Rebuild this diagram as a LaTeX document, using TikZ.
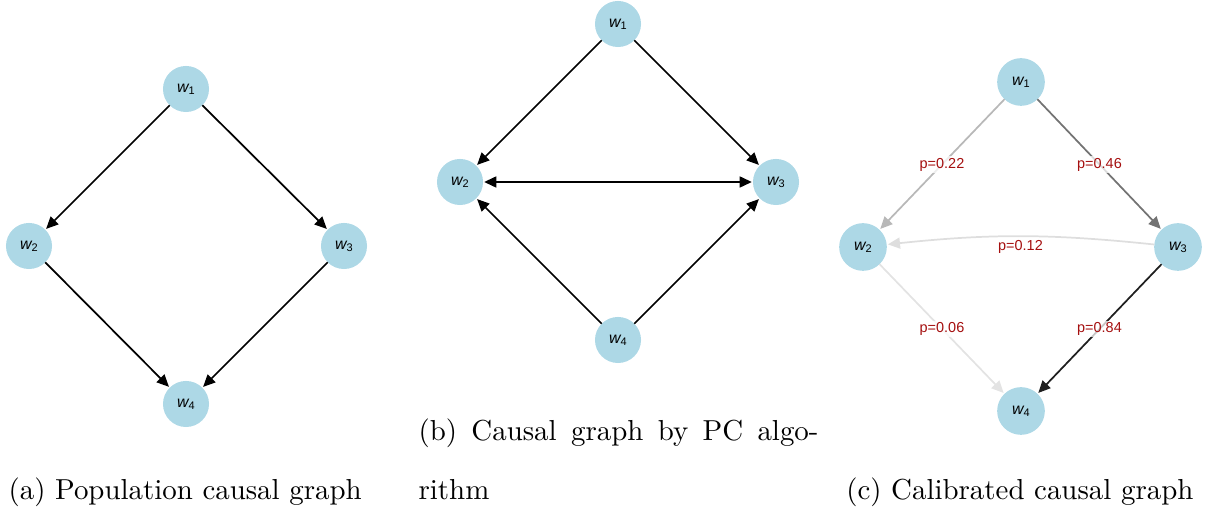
\documentclass[tikz,border=0pt]{standalone}
\usepackage{fontspec}
\usetikzlibrary{arrows.meta,calc}
\newfontfamily\plotfont{Liberation Sans}
\definecolor{nodeblue}{RGB}{173,216,230}
\definecolor{plabel}{RGB}{165,15,15}
\newcommand{\wvar}[1]{{\itshape w}\raisebox{-0.7pt}{\fontsize{3.8}{4}\selectfont #1}}

\begin{document}
\begin{tikzpicture}[x=0.01216cm,y=-0.01216cm,
  var/.style={circle,fill=nodeblue,minimum size=0.56cm,inner sep=0pt,outer sep=0pt,
    font=\plotfont\fontsize{5.5}{6}\selectfont},
  edge/.style={-{Triangle[length=4.2pt,width=3.8pt]},line width=0.6pt,shorten >=0.4pt},
  plab/.style={font=\plotfont\fontsize{5}{6}\selectfont,text=plabel,fill=white,
    fill opacity=0.75,text opacity=1,inner sep=0.6pt},
  subcap/.style={anchor=base west,inner sep=0pt}]
\useasboundingbox (0,0) rectangle (1208,518);

% (a) population graph
\node[var] (a1) at (186,89) {\wvar{1}};
\node[var] (a2) at (29,246) {\wvar{2}};
\node[var] (a3) at (344,246) {\wvar{3}};
\node[var] (a4) at (186,404) {\wvar{4}};
\draw[edge] (a1) -- (a2);
\draw[edge] (a1) -- (a3);
\draw[edge] (a2) -- (a4);
\draw[edge] (a3) -- (a4);
\node[subcap] (capa) at (8,500) {(a) Population causal graph};

% (b) PC algorithm
\node[var] (b1) at (618,24) {\wvar{1}};
\node[var] (b2) at (460,182) {\wvar{2}};
\node[var] (b3) at (776,182) {\wvar{3}};
\node[var] (b4) at (618,340) {\wvar{4}};
\draw[edge] (b1) -- (b2);
\draw[edge] (b1) -- (b3);
\draw[edge,{Triangle[length=4.2pt,width=3.8pt]}-{Triangle[length=4.2pt,width=3.8pt]},shorten <=0.4pt] (b2) -- (b3);
\draw[edge] (b4) -- (b2);
\draw[edge] (b4) -- (b3);
\node[subcap] (capb) at (418,441) {\makebox[4.864cm][s]{(b) Causal graph by PC algo-}};
\node[subcap] (capb2) at (418,500) {rithm};

% (c) calibrated graph
\node[var,minimum size=0.58cm] (c1) at (1021,82) {\wvar{1}};
\node[var,minimum size=0.58cm] (c2) at (863,247) {\wvar{2}};
\node[var,minimum size=0.58cm] (c3) at (1178,247) {\wvar{3}};
\node[var,minimum size=0.58cm] (c4) at (1021,411) {\wvar{4}};
\draw[edge,black!28] (c1) -- (c2);
\draw[edge,black!55] (c1) -- (c3);
\draw[edge,black!13] (c3) to[bend right=6] (c2);
\draw[edge,black!11] (c2) -- (c4);
\draw[edge,black!88] (c3) -- (c4);
\node[plab] (p12) at ($(c1)!0.5!(c2)$) {p=0.22};
\node[plab] (p13) at ($(c1)!0.5!(c3)$) {p=0.46};
\node[plab] (p32) at ($(c3)!0.5!(c2)$) {p=0.12};
\node[plab] (p24) at ($(c2)!0.5!(c4)$) {p=0.06};
\node[plab] (p34) at ($(c3)!0.5!(c4)$) {p=0.84};
\node[subcap,anchor=base east] (capc) at (1194,500) {(c) Calibrated causal graph};
\end{tikzpicture}
\end{document}
